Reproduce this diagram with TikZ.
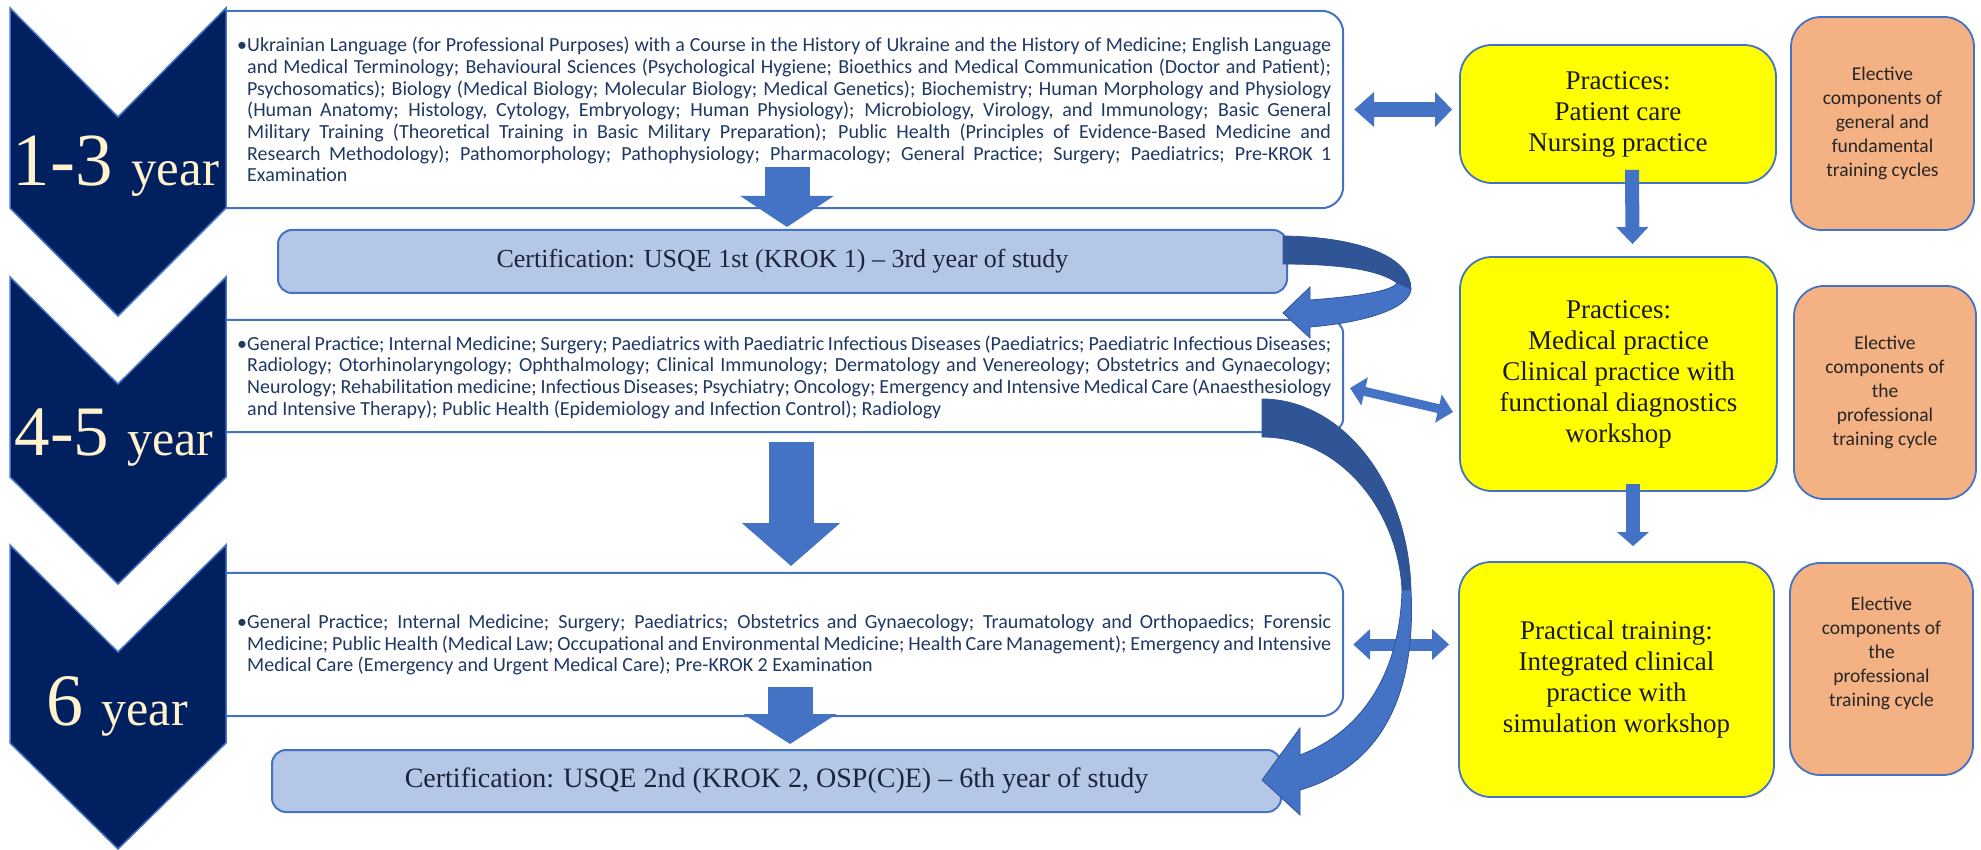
\documentclass[tikz,border=0pt]{standalone}
\usepackage{fontspec}
\setmainfont{Liberation Serif}
\newfontfamily\calibri{Carlito}
\usetikzlibrary{arrows.meta}

\definecolor{azulosc}{RGB}{0,32,96}
\definecolor{azulborde}{RGB}{68,114,196}
\definecolor{azulsombra}{RGB}{47,85,151}
\definecolor{azulclaro}{RGB}{180,199,231}
\definecolor{crema}{RGB}{255,242,204}
\definecolor{textoazul}{RGB}{31,56,100}
\definecolor{textocert}{RGB}{30,35,60}
\definecolor{amarillo}{RGB}{255,255,0}
\definecolor{naranja}{RGB}{244,177,131}

% Lista de asignaturas con viñeta colgante
\newcommand{\listado}[1]{\parbox{1094pt}{\hyphenpenalty=10000\tolerance=9999%
  \hangindent=10pt\hangafter=1\noindent\makebox[10pt][l]{\textbullet}#1}}

\tikzset{
  hueco/.style={draw=none, inner sep=0pt},
  caja/.style={draw=azulborde, line width=2pt, fill=white, rounded corners=22pt},
  lista/.style={anchor=west, inner sep=0pt, text=textoazul, font=\calibri\fontsize{20}{21.7}\selectfont},
  certif/.style={draw=azulborde, line width=2pt, fill=azulclaro, rounded corners=14pt, inner sep=0pt, text=textocert},
  chevron/.style={fill=azulosc, draw=azulborde, line width=1.5pt},
  anio/.style={anchor=base, inner sep=0pt, text=crema},
  practica/.style={draw=azulborde, line width=1.8pt, fill=amarillo, rounded corners=32pt, inner sep=0pt,
    align=center, text=black!90, font=\fontsize{27}{31}\selectfont},
  electiva/.style={draw=azulborde, line width=1.8pt, fill=naranja, rounded corners=30pt, inner sep=0pt,
    align=center, text=black!85, font=\calibri\fontsize{19.5}{24}\selectfont},
  flechagorda/.style={azulborde, line width=45pt, -{Triangle[width=92pt,length=31pt]}},
  flechadoble/.style={azulborde, line width=12pt, {Triangle[width=30pt,length=17pt]}-{Triangle[width=30pt,length=17pt]}},
  flechafina/.style={azulborde, line width=14pt, -{Triangle[width=31pt,length=17pt]}},
  cinta/.style={draw=azulsombra, line width=0.8pt}
}

\begin{document}
\begin{tikzpicture}[x=1pt,y=-1pt]

% Marco del dibujo
\useasboundingbox (0,0) rectangle (1981,850);

% Cajas con las asignaturas de cada etapa (abiertas por la izquierda)
\node[hueco, minimum width=1117pt, minimum height=197pt] (caja1) at (784.5,109.5) {};
\node[hueco, minimum width=1117pt, minimum height=112pt] (caja2) at (784.5,376) {};
\node[hueco, minimum width=1117pt, minimum height=143pt] (caja3) at (784.5,644.5) {};
\filldraw[caja] (caja1.south west) -- (caja1.south east) -- (caja1.north east) -- (caja1.north west);
\filldraw[caja, rounded corners=14pt] (caja2.south west) -- (caja2.south east) -- (caja2.north east) -- (caja2.north west);
\filldraw[caja] (caja3.south west) -- (caja3.south east) -- (caja3.north east) -- (caja3.north west);

% Textos de las asignaturas
\node[lista] (lista1) at (237,109.5) {\listado{Ukrainian Language (for Professional Purposes) with a Course in the History of Ukraine and the History of Medicine; English Language\linebreak
and Medical Terminology; Behavioural Sciences (Psychological Hygiene; Bioethics and Medical Communication (Doctor and Patient);\linebreak
Psychosomatics); Biology (Medical Biology; Molecular Biology; Medical Genetics); Biochemistry; Human Morphology and Physiology\linebreak
(Human Anatomy; Histology, Cytology, Embryology; Human Physiology); Microbiology, Virology, and Immunology; Basic General\linebreak
Military Training (Theoretical Training in Basic Military Preparation); Public Health (Principles of Evidence-Based Medicine and\linebreak
Research Methodology); Pathomorphology; Pathophysiology; Pharmacology; General Practice; Surgery; Paediatrics; Pre-KROK 1\linebreak
Examination}};
\node[lista] (lista2) at (237,377) {\listado{General Practice; Internal Medicine; Surgery; Paediatrics with Paediatric Infectious Diseases (Paediatrics; Paediatric Infectious Diseases;\linebreak
Radiology; Otorhinolaryngology; Ophthalmology; Clinical Immunology; Dermatology and Venereology; Obstetrics and Gynaecology;\linebreak
Neurology; Rehabilitation medicine; Infectious Diseases; Psychiatry; Oncology; Emergency and Intensive Medical Care (Anaesthesiology\linebreak
and Intensive Therapy); Public Health (Epidemiology and Infection Control); Radiology}};
\node[lista] (lista3) at (237,645) {\listado{General Practice; Internal Medicine; Surgery; Paediatrics; Obstetrics and Gynaecology; Traumatology and Orthopaedics; Forensic\linebreak
Medicine; Public Health (Medical Law; Occupational and Environmental Medicine; Health Care Management); Emergency and Intensive\linebreak
Medical Care (Emergency and Urgent Medical Care); Pre-KROK 2 Examination}};

% Certificaciones
\node[certif, minimum width=1009pt, minimum height=63pt, font=\fontsize{26}{26}\selectfont] (cert1) at (782.5,261.5)
  {Certification: USQE 1st (KROK 1) -- 3rd year of study};
\node[certif, minimum width=1009pt, minimum height=62pt, font=\fontsize{28}{28}\selectfont] (cert2) at (776.5,781)
  {Certification: USQE 2nd (KROK 2, OSP(C)E) -- 6th year of study};

% Galones de los años (encima de las cajas)
\draw[chevron] (10,8) -- (118,117) -- (226,8) -- (226,208) -- (118,316) -- (10,208) -- cycle;
\draw[chevron] (10,277) -- (118,384) -- (226,277) -- (226,477) -- (118,584) -- (10,477) -- cycle;
\draw[chevron] (10,545) -- (118,652) -- (226,545) -- (226,743) -- (118,849) -- (10,743) -- cycle;

% Rótulos de los años
\node[anio] (anio1) at (116,186) {\fontsize{75}{75}\selectfont 1-3 \fontsize{51}{51}\selectfont year};
\node[anio] (anio2) at (114,455) {\fontsize{71}{71}\selectfont 4-5 \fontsize{50}{50}\selectfont year};
\node[anio] (anio3) at (117,725) {\fontsize{74}{74}\selectfont 6 \fontsize{50}{50}\selectfont year};

% Flechas hacia abajo (asignaturas -> certificación / etapa siguiente)
\coordinate (a1) at (787,167); \coordinate (a2) at (787,227);
\coordinate (b1) at (791,442); \coordinate (b2) at (791,566);
\coordinate (c1) at (790,687); \coordinate (c2) at (790,744);
\draw[flechagorda] (a1) -- (a2);
\draw[flechagorda, -{Triangle[width=96pt,length=43pt]}] (b1) -- (b2);
\draw[flechagorda, -{Triangle[width=92pt,length=30pt]}] (c1) -- (c2);

% Prácticas (cajas amarillas)
\node[practica, minimum width=316pt, minimum height=138pt] (pract1) at (1618,114)
  {Practices:\\Patient care\\Nursing practice};
\node[practica, minimum width=317pt, minimum height=234pt] (pract2) at (1618.5,374)
  {Practices:\\Medical practice\\Clinical practice with\\functional diagnostics\\workshop};
\node[practica, minimum width=315pt, minimum height=235pt] (pract3) at (1616.5,679.5)
  {Practical training:\\Integrated clinical\\practice with\\simulation workshop};

% Componentes electivos (cajas naranjas)
\node[electiva, minimum width=183pt, minimum height=213pt] (elec1) at (1882.5,123.5)
  {Elective\\components of\\general and\\fundamental\\training cycles};
\node[electiva, minimum width=182pt, minimum height=213pt] (elec2) at (1885,392.5)
  {Elective\\components of\\the\\professional\\training cycle};
\node[electiva, minimum width=183pt, minimum height=212pt] (elec3) at (1881.5,669) {};
\node[electiva, draw=none, fill=none] (elec3t) at (1881.5,653)
  {Elective\\components of\\the\\professional\\training cycle};

% Flechas entre prácticas
\draw[flechafina] ([xshift=14pt,yshift=14pt]pract1.south) -- ([xshift=14pt,yshift=12pt]pract2.north);
\draw[flechafina, -{Triangle[width=31pt,length=14pt]}] ([xshift=14.5pt,yshift=8pt]pract2.south) -- ([xshift=16.5pt,yshift=15pt]pract3.north);

% Flechas dobles entre asignaturas y prácticas
\coordinate (d2a) at (1350,388); \coordinate (d2b) at (1453,412);
\draw[flechadoble, line width=15pt, {Triangle[width=34pt,length=20pt]}-{Triangle[width=34pt,length=17pt]}, shorten <=11pt, shorten >=7pt]
  (caja1.east) -- (caja1.east -| pract1.west);
\draw[flechadoble, line width=9pt, {Triangle[width=28pt,length=15pt]}-{Triangle[width=28pt,length=15pt]}] (d2a) -- (d2b);
\draw[flechadoble, shorten <=10pt, shorten >=9pt] (caja3.east) -- (caja3.east -| pract3.west);

% Flecha curva: certificación 1 -> cuarto año
\fill[azulsombra, cinta] (1283,236) .. controls (1362,237) and (1411,258) .. (1411,289)
  -- (1397,283) .. controls (1380,270) and (1340,264) .. (1283,264) -- cycle;
\fill[azulborde, cinta] (1411,289) .. controls (1410,307) and (1370,322) .. (1310,327)
  -- (1310,338) -- (1283,313) -- (1310,287) -- (1310,300)
  .. controls (1350,297) and (1392,292) .. (1397,283) -- cycle;

% Flecha curva grande: cuarto-quinto año -> certificación 2
\fill[azulsombra, cinta] (1262,399) .. controls (1340,399) and (1408,480) .. (1411,590)
  -- (1402,590) .. controls (1398,510) and (1340,437) .. (1262,437) -- cycle;
\fill[azulborde, cinta] (1411,590) .. controls (1416,690) and (1385,765) .. (1300,790)
  -- (1300,815) -- (1262,780) -- (1300,728) -- (1300,755)
  .. controls (1365,730) and (1400,670) .. (1402,590) -- cycle;

\end{tikzpicture}
\end{document}
